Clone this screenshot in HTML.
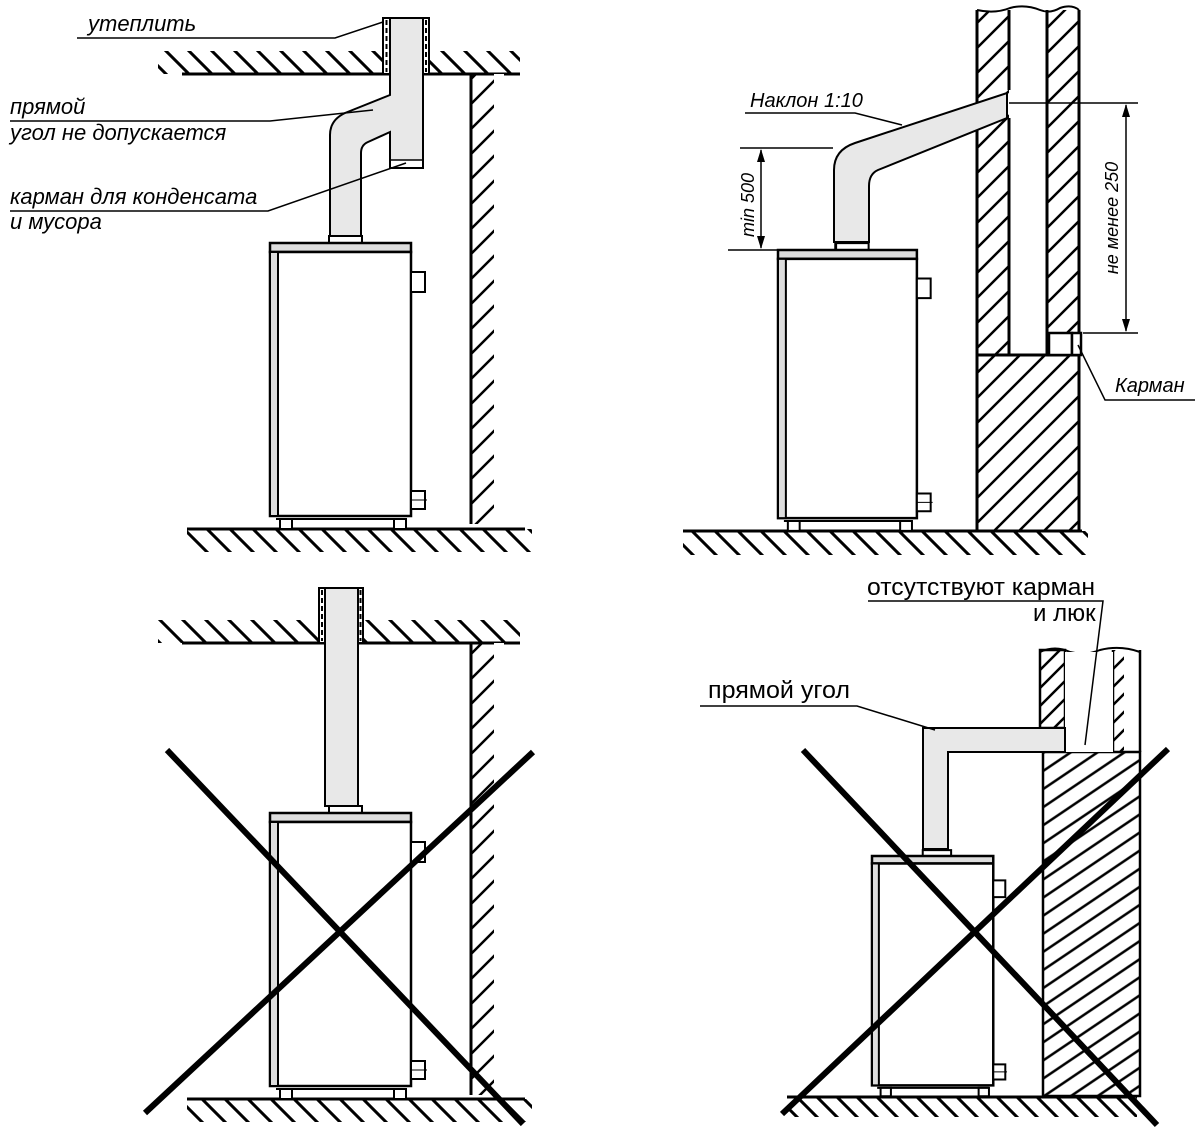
<!DOCTYPE html>
<html><head><meta charset="utf-8"><style>
html,body{margin:0;padding:0;background:#fff;}
svg{display:block;}
text{font-family:"Liberation Sans","DejaVu Sans",sans-serif;fill:#000;}
.i{font-style:italic;}
</style></head><body>
<svg width="1200" height="1141" viewBox="0 0 1200 1141" xmlns="http://www.w3.org/2000/svg">
<defs>
<pattern id="hb" width="23" height="23" patternUnits="userSpaceOnUse"><path d="M0,0L23,23M-5,18L5,28M18,-5L28,5" stroke="#000" stroke-width="3"/></pattern>
<pattern id="hb2" width="20" height="20" patternUnits="userSpaceOnUse"><path d="M0,0L20,20M-5,15L5,25M15,-5L25,5" stroke="#000" stroke-width="3"/></pattern>
<pattern id="hf" width="25" height="25" patternUnits="userSpaceOnUse"><path d="M0,25L25,0M-5,5L5,-5M20,30L30,20" stroke="#000" stroke-width="2.5"/></pattern>
<pattern id="hf2" width="18" height="18" patternUnits="userSpaceOnUse"><path d="M0,18L18,0M-5,5L5,-5M13,23L23,13" stroke="#000" stroke-width="2.5"/></pattern>
<pattern id="hs" width="40" height="15" patternUnits="userSpaceOnUse" patternTransform="rotate(-34)"><path d="M0,7.5L40,7.5" stroke="#000" stroke-width="2.5"/></pattern>
<g id="b">
 <rect x="59" y="-7" width="33" height="7" fill="#fff" stroke="#000" stroke-width="2" vector-effect="non-scaling-stroke"/>
 <rect x="0" y="0" width="141" height="9" fill="#ddd" stroke="#000" stroke-width="2.5" vector-effect="non-scaling-stroke"/>
 <rect x="0" y="9" width="141" height="264" fill="#fff" stroke="#000" stroke-width="2.5" vector-effect="non-scaling-stroke"/>
 <rect x="0" y="9" width="8" height="264" fill="#ddd" stroke="#000" stroke-width="2" vector-effect="non-scaling-stroke"/>
 <line x1="6" y1="276" x2="136" y2="276" stroke="#000" stroke-width="2" vector-effect="non-scaling-stroke"/>
 <rect x="10" y="276" width="12" height="10" fill="#fff" stroke="#000" stroke-width="2" vector-effect="non-scaling-stroke"/>
 <rect x="124" y="276" width="12" height="10" fill="#fff" stroke="#000" stroke-width="2" vector-effect="non-scaling-stroke"/>
 <rect x="141" y="29" width="14" height="20" fill="#fff" stroke="#000" stroke-width="2" vector-effect="non-scaling-stroke"/>
 <rect x="141" y="248" width="14" height="18" fill="#fff" stroke="#000" stroke-width="2" vector-effect="non-scaling-stroke"/>
 <line x1="141" y1="257" x2="157" y2="257" stroke="#000" stroke-width="1" vector-effect="non-scaling-stroke"/>
</g>
</defs>

<!-- ============ TOP LEFT ============ -->
<rect x="158" y="51" width="362" height="23" fill="url(#hb)"/>
<line x1="182" y1="74" x2="520" y2="74" stroke="#000" stroke-width="3"/>
<rect x="471" y="74" width="23" height="450" fill="url(#hf)"/>
<rect x="494" y="74" width="10" height="30" fill="#fff"/>
<line x1="471" y1="74" x2="471" y2="524" stroke="#000" stroke-width="3"/>
<rect x="187" y="529" width="345" height="23" fill="url(#hb)"/>
<line x1="187" y1="529" x2="525" y2="529" stroke="#000" stroke-width="3"/>
<rect x="383" y="18" width="7" height="56" fill="#fff" stroke="#000" stroke-width="2"/>
<rect x="423" y="18" width="6" height="56" fill="#fff" stroke="#000" stroke-width="2"/>
<line x1="386.5" y1="20" x2="386.5" y2="72" stroke="#000" stroke-width="2" stroke-dasharray="5,3"/>
<line x1="426" y1="20" x2="426" y2="72" stroke="#000" stroke-width="2" stroke-dasharray="5,3"/>
<path d="M390,18L423,18L423,168L390,168L390,132L368,142Q361,145 361,153L361,236L330,236L330,135Q330,120 345,113L390,95Z" fill="#e8e8e8" stroke="#000" stroke-width="2"/>
<rect x="391" y="160" width="31" height="7" fill="#fff"/>
<line x1="390" y1="160" x2="423" y2="160" stroke="#000" stroke-width="1.5"/>
<use href="#b" transform="translate(270,243)"/>
<text x="88" y="31" class="i" font-size="22">утеплить</text>
<polyline points="77,38 335,38 383,22" fill="none" stroke="#000" stroke-width="1.5"/>
<text x="10" y="114" class="i" font-size="22">прямой</text>
<text x="10" y="140" class="i" font-size="22">угол не допускается</text>
<polyline points="10,121 270,121 373,110" fill="none" stroke="#000" stroke-width="1.5"/>
<text x="10" y="204" class="i" font-size="22">карман для конденсата</text>
<text x="10" y="229" class="i" font-size="22">и мусора</text>
<polyline points="10,211 268,211 406,163" fill="none" stroke="#000" stroke-width="1.5"/>

<!-- ============ TOP RIGHT ============ -->
<rect x="977" y="10" width="32" height="345" fill="url(#hf)"/>
<rect x="1047" y="10" width="32" height="323" fill="url(#hf)"/>
<rect x="977" y="355" width="102" height="176" fill="url(#hf)"/>
<rect x="1009" y="5" width="38" height="350" fill="#fff"/>
<path d="M970,0L1090,0L1090,10Q1075,4 1060,10Q1050,14 1040,8Q1025,2 1010,10Q995,14 977,8L970,8Z" fill="#fff"/>
<path d="M977,10Q995,14 1010,8Q1025,4 1040,10Q1050,14 1060,8Q1072,4 1079,10" fill="none" stroke="#000" stroke-width="2"/>
<line x1="977" y1="10" x2="977" y2="531" stroke="#000" stroke-width="3"/>
<line x1="1009" y1="10" x2="1009" y2="90" stroke="#000" stroke-width="3"/>
<line x1="1009" y1="118" x2="1009" y2="355" stroke="#000" stroke-width="3"/>
<line x1="1047" y1="10" x2="1047" y2="355" stroke="#000" stroke-width="3"/>
<line x1="1079" y1="10" x2="1079" y2="531" stroke="#000" stroke-width="3"/>
<line x1="977" y1="355" x2="1079" y2="355" stroke="#000" stroke-width="3"/>
<rect x="1049" y="333" width="23" height="22" fill="#fff" stroke="#000" stroke-width="2.5"/>
<rect x="1072" y="333" width="9" height="22" fill="#fff" stroke="#000" stroke-width="2.5"/>
<path d="M834,242L834,170Q834,150 855,143L1007,93L1007,118L878,170Q869,174 869,186L869,242Z" fill="#e8e8e8" stroke="#000" stroke-width="2"/>
<rect x="835" y="242" width="33" height="8" fill="#fff" stroke="#000" stroke-width="1.5"/>
<rect x="683" y="531" width="405" height="24" fill="url(#hb)"/>
<line x1="683" y1="531" x2="1082" y2="531" stroke="#000" stroke-width="3"/>
<use href="#b" transform="translate(778,250) scale(0.985,0.982)"/>
<line x1="740" y1="148" x2="833" y2="148" stroke="#000" stroke-width="1.5"/>
<line x1="728" y1="250" x2="778" y2="250" stroke="#000" stroke-width="1.5"/>
<line x1="761" y1="150" x2="761" y2="248" stroke="#000" stroke-width="1.5"/>
<path d="M761,149L757,162L765,162Z M761,249L757,236L765,236Z" fill="#000"/>
<text transform="translate(754,205) rotate(-90)" text-anchor="middle" class="i" font-size="18">min 500</text>
<line x1="1009" y1="103" x2="1138" y2="103" stroke="#000" stroke-width="1.5"/>
<line x1="1083" y1="333" x2="1138" y2="333" stroke="#000" stroke-width="1.5"/>
<line x1="1126" y1="105" x2="1126" y2="331" stroke="#000" stroke-width="1.5"/>
<path d="M1126,104L1122,117L1130,117Z M1126,332L1122,319L1130,319Z" fill="#000"/>
<text transform="translate(1118,218) rotate(-90)" text-anchor="middle" class="i" font-size="18">не менее 250</text>
<text x="750" y="107" class="i" font-size="20">Наклон 1:10</text>
<polyline points="745,113 855,113 902,125" fill="none" stroke="#000" stroke-width="1.5"/>
<text x="1115" y="392" class="i" font-size="20">Карман</text>
<polyline points="1195,400 1105,400 1078,345" fill="none" stroke="#000" stroke-width="1.5"/>

<!-- ============ BOTTOM LEFT ============ -->
<rect x="158" y="620" width="362" height="23" fill="url(#hb)"/>
<line x1="182" y1="643" x2="520" y2="643" stroke="#000" stroke-width="3"/>
<rect x="471" y="643" width="23" height="452" fill="url(#hf)"/>
<rect x="494" y="643" width="10" height="30" fill="#fff"/>
<line x1="471" y1="643" x2="471" y2="1095" stroke="#000" stroke-width="3"/>
<rect x="187" y="1099" width="345" height="23" fill="url(#hb)"/>
<line x1="187" y1="1099" x2="525" y2="1099" stroke="#000" stroke-width="3"/>
<rect x="319" y="588" width="6" height="55" fill="#fff" stroke="#000" stroke-width="2"/>
<rect x="358" y="588" width="5" height="55" fill="#fff" stroke="#000" stroke-width="2"/>
<line x1="322" y1="590" x2="322" y2="641" stroke="#000" stroke-width="2" stroke-dasharray="5,3"/>
<line x1="360.5" y1="590" x2="360.5" y2="641" stroke="#000" stroke-width="2" stroke-dasharray="5,3"/>
<rect x="325" y="588" width="33" height="218" fill="#e8e8e8" stroke="#000" stroke-width="2"/>
<use href="#b" transform="translate(270,813)"/>
<line x1="167" y1="750" x2="523" y2="1124" stroke="#000" stroke-width="6"/>
<line x1="533" y1="752" x2="145" y2="1113" stroke="#000" stroke-width="6"/>

<!-- ============ BOTTOM RIGHT ============ -->
<rect x="1040" y="650" width="25" height="78" fill="url(#hf2)"/>
<rect x="1040" y="650" width="25" height="78" fill="none" stroke="#000" stroke-width="2.5"/>
<rect x="1113" y="650" width="11" height="102" fill="url(#hf2)"/>
<line x1="1113" y1="650" x2="1113" y2="752" stroke="#000" stroke-width="2.5"/>
<line x1="1140" y1="650" x2="1140" y2="752" stroke="#000" stroke-width="2.5"/>
<path d="M1040,652Q1055,645 1070,652Q1085,656 1100,650Q1120,645 1140,652" fill="none" stroke="#000" stroke-width="2"/>
<rect x="1043" y="752" width="97" height="344" fill="url(#hs)"/>
<rect x="1043" y="752" width="97" height="344" fill="none" stroke="#000" stroke-width="2.5"/>
<rect x="1065" y="652" width="48" height="100" fill="#fff"/>
<path d="M923,849L923,728L1065,728L1065,752L948,752L948,849Z" fill="#e8e8e8" stroke="#000" stroke-width="2"/>
<rect x="787" y="1097" width="350" height="20" fill="url(#hb2)"/>
<line x1="787" y1="1097" x2="1130" y2="1097" stroke="#000" stroke-width="3"/>
<use href="#b" transform="translate(872,856) scale(0.86,0.84)"/>
<line x1="803" y1="750" x2="1157" y2="1125" stroke="#000" stroke-width="6"/>
<line x1="1168" y1="749" x2="782" y2="1114" stroke="#000" stroke-width="6"/>
<text x="867" y="595" font-size="24" textLength="228" lengthAdjust="spacingAndGlyphs">отсутствуют карман</text>
<text x="1033" y="621" font-size="24">и люк</text>
<polyline points="868,601 1103,601 1085,745" fill="none" stroke="#000" stroke-width="1.5"/>
<text x="708" y="698" font-size="24" textLength="142" lengthAdjust="spacingAndGlyphs">прямой угол</text>
<polyline points="700,706 857,706 935,730" fill="none" stroke="#000" stroke-width="1.5"/>
</svg>
</body></html>
